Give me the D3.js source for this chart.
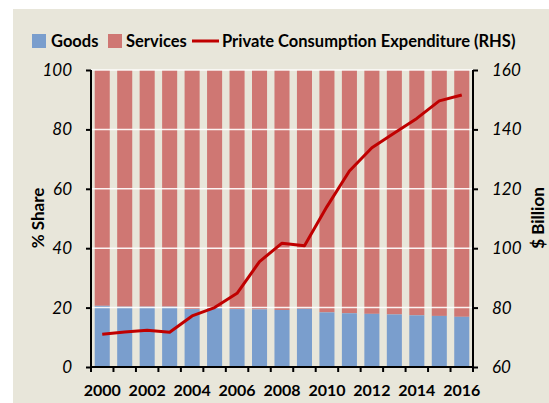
<!DOCTYPE html>
<html><head><meta charset="utf-8">
<script src="https://cdn.jsdelivr.net/npm/d3@7"></script>
<style>body{margin:0;background:#fff}svg{display:block}</style>
</head><body>
<svg id="c" width="549" height="403"></svg>
<script>
const years = [2000,2001,2002,2003,2004,2005,2006,2007,2008,2009,2010,2011,2012,2013,2014,2015,2016];
const goods = [20.6,20.3,20.3,20.3,19.5,19.9,19.5,19.4,19.2,19.6,18.4,18.1,17.9,17.7,17.4,17.2,16.9];
const services = goods.map(g => +(100 - g).toFixed(1));
const pce = [71.0,71.8,72.4,71.7,77.2,80.0,84.8,95.5,101.7,100.8,114.0,126.0,133.8,138.8,143.7,149.6,151.6];
const leftTicks = [0,20,40,60,80,100];
const rightTicks = [60,80,100,120,140,160];
const xTickLabels = [2000,2002,2004,2006,2008,2010,2012,2014,2016];

const font = "Lato, 'Open Sans', sans-serif";
const svg = d3.select("#c");
svg.append("rect").attr("x",13).attr("y",9).attr("width",536).attr("height",394).attr("fill","#E8E6DA");

const m = {l:91, r:473, t:70, b:367};
const x = d3.scaleBand().domain(years).range([m.l, m.r]).paddingInner(0.33).paddingOuter(0.165);
const yL = d3.scaleLinear().domain([0,100]).range([m.b, m.t]);
const yR = d3.scaleLinear().domain([60,160]).range([m.b, m.t]);

const g = svg.append("g");
// bars: services stacked on goods
g.selectAll("rect.s").data(years).join("rect")
  .attr("x", d => x(d)).attr("width", x.bandwidth())
  .attr("y", (d,i) => yL(goods[i] + services[i])).attr("height", (d,i) => yL(goods[i]) - yL(goods[i] + services[i]))
  .attr("fill", "#CF7773");
g.selectAll("rect.g").data(years).join("rect")
  .attr("x", d => x(d)).attr("width", x.bandwidth())
  .attr("y", (d,i) => yL(goods[i])).attr("height", (d,i) => yL(0) - yL(goods[i]))
  .attr("fill", "#7A9ECD");
// gridlines
g.selectAll("line.grid").data(leftTicks.filter(t => t > 0)).join("line")
  .attr("x1", m.l).attr("x2", m.r).attr("y1", d => yL(d)).attr("y2", d => yL(d))
  .attr("stroke", "#fff").attr("stroke-width", 1.5).attr("stroke-opacity", 0.9);

// line
const line = d3.line().x((d,i) => x(years[i]) + x.bandwidth()/2).y(d => yR(d));
g.append("path").datum(pce).attr("d", line).attr("fill","none")
  .attr("stroke","#C00000").attr("stroke-width",3).attr("stroke-linejoin","round");

// axes
const axL = svg.append("g").attr("transform",`translate(${m.l},0)`)
  .call(d3.axisLeft(yL).tickValues(leftTicks).tickSize(5).tickPadding(14));
const axR = svg.append("g").attr("transform",`translate(${m.r},0)`)
  .call(d3.axisRight(yR).tickValues(rightTicks).tickSize(5).tickPadding(14));
[axL, axR].forEach(a => {
  a.select(".domain").attr("stroke","#000").attr("stroke-width",2).attr("d", `M0,${m.t}V${m.b}`);
  a.selectAll(".tick line").attr("stroke","#000").attr("stroke-width",2);
  a.selectAll("text").attr("font-family", font).attr("font-style","italic").attr("font-size",17).attr("fill","#000");
});
// x axis
const xb = d3.scaleLinear().domain([0, years.length]).range([m.l, m.r]);
const axX = svg.append("g").attr("transform",`translate(0,${m.b})`);
axX.append("line").attr("x1", m.l).attr("x2", m.r).attr("stroke","#000").attr("stroke-width",2);
axX.selectAll("line.t").data(d3.range(years.length + 1)).join("line")
  .attr("x1", d => xb(d)).attr("x2", d => xb(d)).attr("y1",0).attr("y2",5)
  .attr("stroke","#000").attr("stroke-width",2);
axX.selectAll("text").data(xTickLabels).join("text")
  .attr("x", d => x(d) + x.bandwidth()/2).attr("y", 29)
  .attr("text-anchor","middle").attr("font-family",font).attr("font-weight","bold")
  .attr("font-size",16).text(d => d);

// axis titles
svg.append("text").attr("transform","translate(44,218) rotate(-90)").attr("text-anchor","middle")
  .attr("font-family",font).attr("font-weight","bold").attr("font-size",17).text("% Share");
svg.append("text").attr("transform","translate(544,218) rotate(-90)").attr("text-anchor","middle")
  .attr("font-family",font).attr("font-weight","bold").attr("font-size",17).text("$ Billion");

// legend
const lg = svg.append("g").attr("font-family",font).attr("font-weight","bold").attr("font-size",16.5);
const legendItems = ["Goods","Services","Private Consumption Expenditure (RHS)"];
lg.append("rect").attr("x",32).attr("y",34).attr("width",14).attr("height",14).attr("fill","#7A9ECD");
lg.append("text").attr("x",51).attr("y",47).text(legendItems[0]);
lg.append("rect").attr("x",108).attr("y",34).attr("width",14).attr("height",14).attr("fill","#CF7773");
lg.append("text").attr("x",126).attr("y",47).text(legendItems[1]);
lg.append("line").attr("x1",192).attr("x2",219).attr("y1",41).attr("y2",41).attr("stroke","#C00000").attr("stroke-width",3);
lg.append("text").attr("x",222).attr("y",47).text(legendItems[2]);
</script>
</body></html>
